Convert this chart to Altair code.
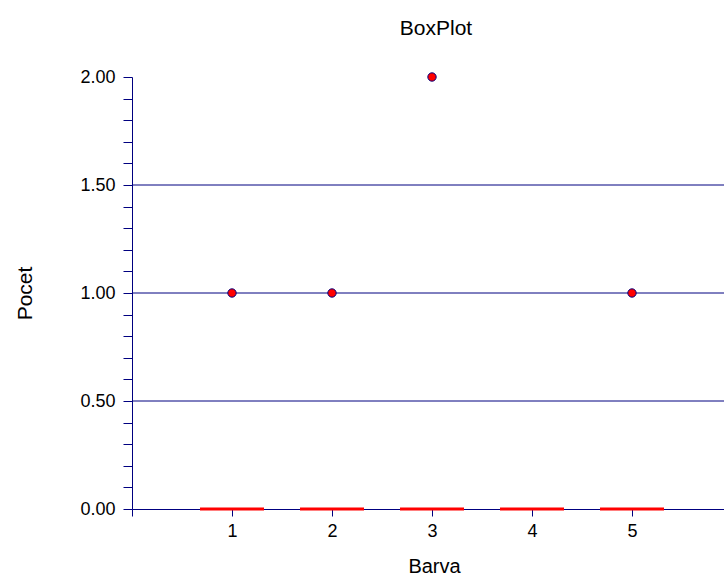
import altair as alt
import pandas as pd

categories = [1, 2, 3, 4, 5]
medians = [0.0, 0.0, 0.0, 0.0, 0.0]
outlier_cat = [1, 2, 3, 5]
outlier_val = [1.0, 1.0, 2.0, 1.0]
grid_vals = [0.5, 1.0, 1.5]
y_ticks = [round(i * 0.1, 1) for i in range(21)]
x_ticks = [0, 1, 2, 3, 4, 5]

NAVY = "#000080"
FONT = "Liberation Sans"
XMAX = 5.92

box_df = pd.DataFrame({"Barva": categories, "Pocet": medians})
out_df = pd.DataFrame({"Barva": outlier_cat, "Pocet": outlier_val})
grid_df = pd.DataFrame({"g": grid_vals})

xscale = alt.Scale(domain=[0, XMAX], nice=False, zero=False)
yscale = alt.Scale(domain=[0, 2], nice=False)

x_axis = alt.Axis(
    values=x_ticks,
    labelExpr="datum.value == 0 ? '' : datum.label",
    title="Barva",
    grid=False,
    domainColor=NAVY,
    tickColor=NAVY,
    tickSize=7,
    labelFontSize=18,
    labelFont=FONT,
    labelColor="black",
    labelPadding=6,
    titleFont=FONT,
    titleFontSize=20,
    titleFontWeight="normal",
    titleColor="black",
    titleX=302,
    titleY=63,
    titleBaseline="alphabetic",
    titleAnchor="start",
    titleAlign="center",
)

y_axis = alt.Axis(
    values=y_ticks,
    labelExpr="abs(round(datum.value*2) - datum.value*2) < 0.001 ? format(datum.value, '.2f') : ''",
    title="Pocet",
    grid=False,
    domainColor=NAVY,
    tickColor=NAVY,
    tickSize=9,
    labelFontSize=18,
    labelFont=FONT,
    labelColor="black",
    labelPadding=8,
    titleFont=FONT,
    titleFontSize=21,
    titleFontWeight="normal",
    titleColor="black",
    titleX=-107,
    titleY=216,
    titleAngle=270,
    titleBaseline="middle",
    titleAlign="center",
    titleAnchor="start",
)

grid = alt.Chart(grid_df).mark_rule(color=NAVY, strokeWidth=1).encode(
    y=alt.Y("g:Q", scale=yscale, axis=y_axis),
    x=alt.datum(0, scale=xscale, axis=x_axis),
    x2=alt.datum(XMAX),
)

medline = alt.Chart(box_df).transform_calculate(
    lo="datum.Barva - 0.32", hi="datum.Barva + 0.32"
).mark_rule(color="#ff0000", strokeWidth=3).encode(
    x=alt.X("lo:Q", scale=xscale, axis=x_axis),
    x2="hi:Q",
    y=alt.Y("Pocet:Q", scale=yscale, axis=y_axis),
)

points = alt.Chart(out_df).mark_point(
    filled=True, fill="#ff0000", stroke=NAVY, strokeWidth=1, size=70, opacity=1, shape="circle"
).encode(
    x=alt.X("Barva:Q", scale=xscale, axis=x_axis),
    y=alt.Y("Pocet:Q", scale=yscale, axis=y_axis),
)

chart = alt.layer(grid, medline, points).properties(
    width=592,
    height=432,
    background="white",
    title=alt.TitleParams(
        "BoxPlot",
        font=FONT,
        fontSize=21,
        fontWeight="normal",
        color="black",
        anchor="middle",
        frame="group",
        dx=8,
        offset=12,
        baseline="alphabetic",
    ),
    autosize=alt.AutoSizeParams(type="none"),
    padding={"left": 132, "top": 77, "right": 0, "bottom": 70},
).configure_view(strokeWidth=0, stroke="transparent")

chart.save("out.html", embed_options={"renderer": "svg", "actions": False})
